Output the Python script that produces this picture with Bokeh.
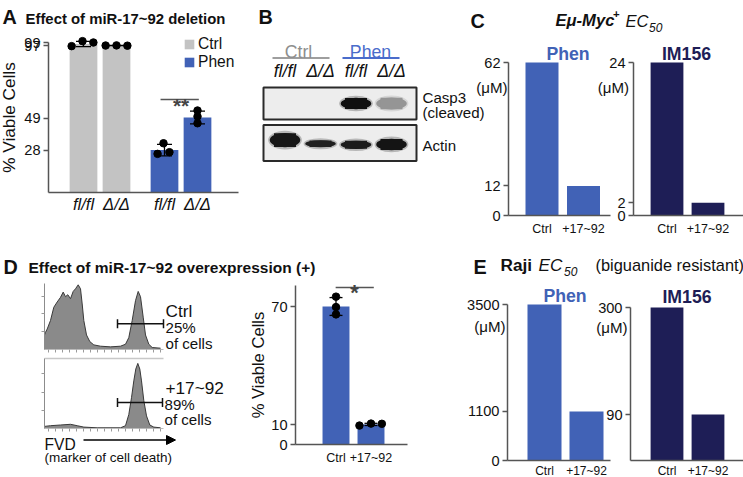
import numpy as np
from bokeh.plotting import figure
from bokeh.models import (Range1d, LinearAxis, FixedTicker, Label, Legend, LegendItem,
                          Whisker, TeeHead, ColumnDataSource, Arrow, NormalHead)
from bokeh.embed import file_html
from bokeh.resources import INLINE

# ---------------- values ----------------
# Panel A: % viable cells after miR-17~92 deletion
a_treatment = ["Ctrl", "Ctrl", "Phen", "Phen"]
a_genotype = ["fl/fl", "Δ/Δ", "fl/fl", "Δ/Δ"]
a_viable = [98.0, 97.0, 28.0, 49.5]
a_rep1 = [96.6, 97.0, 32.5, 54.1]
a_rep2 = [99.9, 97.1, 25.5, 50.2]
a_rep3 = [99.0, 96.9, 26.6, 45.7]
a_yticks = [28, 49, 97, 99]

# Panel B: western blot, relative band signal / band thickness per lane
b_treatment = ["Ctrl", "Ctrl", "Phen", "Phen"]
b_genotype = ["fl/fl", "Δ/Δ", "fl/fl", "Δ/Δ"]
b_casp3_signal = [0.0, 0.0, 1.0, 0.40]
b_casp3_thickness = [0.36, 0.36, 0.36, 0.38]
b_actin_signal = [0.97, 0.93, 0.95, 0.98]
b_actin_thickness = [0.40, 0.19, 0.23, 0.32]
b_actin_center = [0.58, 0.48, 0.45, 0.46]

# Panels C and E: EC50 (µM)
ec_groups = ["Ctrl", "+17~92"]
c_phen = [62, 12]
c_im156 = [24, 2]
c_phen_ticks = [0, 12, 62]
c_im156_ticks = [0, 2, 24]
e_phen = [3500, 1100]
e_im156 = [300, 90]
e_phen_ticks = [0, 1100, 3500]
e_im156_ticks = [90, 300]

# Panel D: FVD histograms (% of max) and gates
d_ch_ctrl = [0, 1, 2.7, 6, 9.3, 12.7, 16, 18.7, 21, 23.3, 26, 28.7, 31, 33.7, 36, 37.7, 39.3,
             42, 45.3, 49.3, 56, 66, 76, 81, 84.3, 87.7, 91, 93.7, 96, 98.7, 101, 104.3, 107.7, 116]
d_cnt_ctrl = [22, 26, 31, 44, 64, 72, 79, 87, 80, 83, 77, 88, 92, 98, 92, 69, 44,
              22, 12, 7, 5, 4, 5, 8, 18, 44, 74, 88, 80, 49, 22, 8, 3, 2]
d_ch_mir = [0, 6, 16, 26, 32.7, 39.3, 52.7, 76, 81, 84.3, 87, 89.3, 91.3, 93.3, 95.3, 97,
            99.3, 102, 105.3, 109.3, 116]
d_cnt_mir = [3, 4, 5, 6, 4, 2, 1, 1, 4, 20, 44, 68, 85, 93, 85, 68, 40, 18, 5, 2, 1]
d_gate_ctrl = [73, 119]
d_gate_mir = [73, 118]
d_gate_labels = ["25%", "89%"]
# Panel D: % viable cells
d_groups = ["Ctrl", "+17~92"]
d_viable = [70.0, 10.2]
d_rep1 = [75.0, 9.6]
d_rep2 = [69.7, 10.6]
d_rep3 = [66.0, 10.5]
d_yticks = [0, 10, 70]

# ---------------- styling / layout helpers ----------------
BLUE = "#4162B6"
NAVY = "#1E1E56"
LGRAY = "#C3C3C3"
AXC = "#555555"
FONT = "Liberation Sans"
W, H = 743, 477
SF = 1.04


def fpx(v):
    return f"{v * SF:.1f}px"


def lin(m, q):
    vA, pA, vB, pB = m
    return vA + (q - pA) * (vB - vA) / (pB - pA)


p = figure(width=W, height=H, x_range=Range1d(0, W), y_range=Range1d(H, 0), title=None,
           output_backend="svg", toolbar_location=None, x_axis_type=None, y_axis_type=None,
           min_border=0, min_border_left=0, min_border_right=0, min_border_top=0,
           min_border_bottom=0)
p.outline_line_color = None
p.background_fill_color = "white"
p.border_fill_color = "white"

XR, YR = {}, {}


def sub(name, xmap, ymap):
    XR[name] = Range1d(lin(xmap, 0), lin(xmap, W))
    YR[name] = Range1d(lin(ymap, H), lin(ymap, 0))
    return dict(x_range_name=name, y_range_name=name)


def yaxis(name, xmap, ticks, at_px, bounds, size=14, label=None, label_size=16.5,
          label_standoff=3):
    ax = LinearAxis(x_range_name=name, y_range_name=name, fixed_location=lin(xmap, at_px),
                    bounds=bounds, ticker=FixedTicker(ticks=ticks))
    ax.axis_line_color = AXC
    ax.axis_line_width = 1.5
    ax.major_tick_line_color = AXC
    ax.major_tick_line_width = 1.5
    ax.major_tick_out = 5
    ax.major_tick_in = 0
    ax.minor_tick_line_color = None
    ax.major_label_standoff = 3
    ax.major_label_text_font = FONT
    ax.major_label_text_font_size = fpx(size)
    ax.major_label_text_color = "#111111"
    if label:
        ax.axis_label = label
        ax.axis_label_text_font = FONT
        ax.axis_label_text_font_size = fpx(label_size)
        ax.axis_label_text_font_style = "normal"
        ax.axis_label_text_color = "#111111"
        ax.axis_label_standoff = label_standoff
    p.add_layout(ax, "left")
    return ax


def xaxis(name, xmap, pos, labels, px0, px1, size=12, style="normal", standoff=6):
    ax = LinearAxis(x_range_name=name, y_range_name=name, fixed_location=0,
                    bounds=(lin(xmap, px0), lin(xmap, px1)),
                    ticker=FixedTicker(ticks=list(pos)),
                    major_label_overrides={q: s for q, s in zip(pos, labels)})
    ax.axis_line_color = AXC
    ax.axis_line_width = 1.5
    ax.major_tick_line_color = None
    ax.major_tick_out = 0
    ax.major_tick_in = 0
    ax.minor_tick_line_color = None
    ax.major_label_standoff = standoff
    ax.major_label_text_font = FONT
    ax.major_label_text_font_size = fpx(size)
    ax.major_label_text_font_style = style
    ax.major_label_text_color = "#111111"
    p.add_layout(ax, "below")
    return ax


def txt(x, y, s, size, style="normal", color="#111111", align="left"):
    p.add_layout(Label(x=x, y=y, text=s, text_font=FONT, text_font_size=fpx(size),
                       text_font_style=style, text_color=color, text_align=align,
                       text_baseline="alphabetic"))


# ---------------- free text (titles, letters, annotations) ----------------
txt(2, 16.7, "A", 19, "bold")
txt(25, 18.5, "Effect of miR-17~92 deletion", 14.3, "bold")
txt(258, 16.7, "B", 19, "bold")
txt(470, 20.5, "C", 19, "bold")
txt(555, 20, "Eμ-Myc", 16, "bold italic")
txt(612.5, 13.5, "+", 11, "bold")
txt(625, 20.5, "EC", 16, "italic")
txt(648.5, 26.5, "50", 11.5, "italic")
txt(567.5, 53.3, "Phen", 17, "bold", BLUE, "center")
txt(686, 53.3, "IM156", 17, "bold", NAVY, "center")
txt(507, 87, "(μM)", 14.5, align="right")
txt(628.5, 87, "(μM)", 14.5, align="right")
txt(3, 266.7, "D", 19, "bold")
txt(28, 267, "Effect of miR-17~92 overexpression (+)", 14.9, "bold")
txt(473, 266.7, "E", 19, "bold")
txt(500, 264.5, "Raji", 16.5, "bold")
txt(538, 264.5, "EC", 16.5, "italic")
txt(563.5, 270.5, "50", 11.5, "italic")
txt(595, 264.5, "(biguanide resistant)", 15.8)
txt(564.5, 295.7, "Phen", 17, "bold", BLUE, "center")
txt(686.5, 296, "IM156", 17, "bold", NAVY, "center")
txt(505, 326, "(μM)", 14.5, align="right")
txt(627, 327, "(μM)", 14.5, align="right")
# blot group labels
txt(298, 51.5, b_treatment[0], 17, color="#8E8E8E", align="center")
txt(370, 51.5, b_treatment[2], 17, color="#4A6CCB", align="center")
p.segment(x0=[272, 342], y0=[57.5, 57.5], x1=[329, 399], y1=[57.5, 57.5],
          line_color=["#9E9E9E", "#4A6CCB"], line_width=2)
txt(422, 97, "Casp3", 14.5)
txt(422, 111.5, "(cleaved)", 14.5)
txt(422, 145, "Actin", 14.5)
# flow labels
txt(165, 310, "Ctrl", 16.5)
txt(165, 327, d_gate_labels[0], 14.5)
txt(165, 343, "of cells", 14.5)
txt(165, 387, "+17~92", 16.5)
txt(164, 403.5, d_gate_labels[1], 14.5)
txt(164, 418.5, "of cells", 14.5)
txt(44, 444, "FVD", 15)
txt(44, 456.5, "(marker of cell death)", 13)
p.add_layout(Arrow(x_start=83, y_start=439.5, x_end=175, y_end=439.5, line_width=1.5,
                   line_color="black",
                   end=NormalHead(size=9, fill_color="black", line_color="black")))

# ---------------- Panel A ----------------
a_step = 48 / 33
a_pos = [i + (a_step - 1) * (0 if t == "Ctrl" else 1) for i, t in enumerate(a_treatment)]
A_X, A_Y = (0, 83, 1, 116), (0, 192, 99, 42)
kA = sub("A", A_X, A_Y)
renders = {}
for t, col in (("Ctrl", LGRAY), ("Phen", BLUE)):
    idx = [i for i, g in enumerate(a_treatment) if g == t]
    src = ColumnDataSource(dict(x=[a_pos[i] for i in idx], top=[a_viable[i] for i in idx]))
    renders[t] = p.vbar(x="x", top="top", width=0.84, source=src, fill_color=col,
                        line_color=None, **kA)
a_reps = np.array([a_rep1, a_rep2, a_rep3])
a_sd = a_reps.std(axis=0, ddof=1)
a_err = ColumnDataSource(dict(x=a_pos, upper=np.array(a_viable) + a_sd,
                              lower=np.array(a_viable) - a_sd))
p.add_layout(Whisker(source=a_err, base="x", upper="upper", lower="lower", level="overlay",
                     line_color="black", line_width=1.3,
                     upper_head=TeeHead(size=15, line_color="black", line_width=1.3),
                     lower_head=TeeHead(size=15, line_color="black", line_width=1.3), **kA))
a_dx = [[-0.36, -0.33, -0.03, 0.0], [-0.03, 0.0, -0.21, 0.0], [0.30, 0.33, 0.15, 0.0]]
for r, rep in enumerate([a_rep1, a_rep2, a_rep3]):
    p.scatter(x=[q + d for q, d in zip(a_pos, a_dx[r])], y=rep, size=7.5,
              fill_color="black", line_color="black", level="overlay", **kA)
p.line(x=[a_pos[2] - 0.12, a_pos[3] + 0.04], y=[61.4, 61.4], line_color="#555555",
       line_width=1.6, **kA)
p.add_layout(Label(x=(a_pos[2] + a_pos[3]) / 2, y=61.4, text="**", text_font=FONT,
                   text_font_size=fpx(20), text_font_style="bold", text_align="center",
                   text_baseline="alphabetic", y_offset=-6.3, **kA))
yaxis("A", A_X, a_yticks, 48, (0, 99), 14, "% Viable Cells", 16.5, label_standoff=2)
xaxis("A", A_X, a_pos, a_genotype, 48, 238, 16, "italic", 2)
legA = Legend(items=[LegendItem(label="Ctrl", renderers=[renders["Ctrl"]]),
                     LegendItem(label="Phen", renderers=[renders["Phen"]])],
              location=(183, H - 70.5),
              glyph_width=12, glyph_height=12, label_standoff=3,
              spacing=0, padding=0, margin=0, label_height=12,
              label_text_font=FONT, label_text_font_size=fpx(15), label_text_color="#111111",
              border_line_color=None, background_fill_alpha=0)
p.add_layout(legA)

# ---------------- Panel B (blot) ----------------
lanes = list(range(len(b_genotype)))
B_X = (0, 284.5, 3, 391)
kB1 = sub("B1", B_X, (0, 119, 1, 87))
kB2 = sub("B2", B_X, (0, 160.5, 1, 124.5))


def gray(sig):
    v = int(round(238 - 222 * sig))
    return f"#{v:02x}{v:02x}{v:02x}"


def blot(k, signal, thick, center):
    p.quad(left=[lin(B_X, 263)], right=[lin(B_X, 416)], bottom=[0], top=[1],
           fill_color="#EDEDED", line_color="#2A2A2A", line_width=2, **k)
    for i, (s, h, c) in enumerate(zip(signal, thick, center)):
        if s <= 0:
            continue
        col = gray(s)
        p.ellipse(x=[lanes[i]], y=[c], width=0.95, height=h + 0.12, fill_color=col,
                  fill_alpha=0.25, line_color=None, **k)
        p.ellipse(x=[lanes[i]], y=[c], width=0.86, height=h, fill_color=col,
                  line_color=None, **k)
        p.rect(x=[lanes[i]], y=[c], width=0.62, height=h * 0.96, fill_color=col,
               line_color=None, **k)


blot(kB1, b_casp3_signal, b_casp3_thickness, [0.5] * 4)
blot(kB2, b_actin_signal, b_actin_thickness, b_actin_center)
axB = LinearAxis(x_range_name="B1", y_range_name="B1", fixed_location=1,
                 ticker=FixedTicker(ticks=lanes),
                 major_label_overrides={i: g for i, g in zip(lanes, b_genotype)})
axB.axis_line_color = None
axB.major_tick_line_color = None
axB.major_tick_out = 0
axB.major_tick_in = 0
axB.minor_tick_line_color = None
axB.major_label_standoff = 7
axB.major_label_text_font = FONT
axB.major_label_text_font_size = fpx(17)
axB.major_label_text_font_style = "italic"
axB.major_label_text_color = "#111111"
p.add_layout(axB, "above")

# ---------------- Panels C and E (EC50 bars) ----------------
ec_pos = list(range(len(ec_groups)))


def ec_panel(name, xmap, ymap, vals, ticks, color, width, ax_px, right_px, top_val,
             lab_size=12, lab_standoff=6):
    k = sub(name, xmap, ymap)
    p.vbar(x=ec_pos, top=vals, width=width, fill_color=color, line_color=None, **k)
    yaxis(name, xmap, ticks, ax_px, (0, top_val), 14)
    xaxis(name, xmap, ec_pos, ec_groups, ax_px, right_px, lab_size, "normal", lab_standoff)


ec_panel("C1", (0, 541.5, 1, 583), (0, 215, 62, 62), c_phen, c_phen_ticks, BLUE, 0.795,
         508, 610, c_phen_ticks[-1])
ec_panel("C2", (0, 666.5, 1, 707.5), (0, 215, 24, 62), c_im156, c_im156_ticks, NAVY, 0.80,
         633, 743, c_im156_ticks[-1])
ec_panel("E1", (0, 544, 1, 586), (0, 460, 3500, 304), e_phen, e_phen_ticks, BLUE, 0.81,
         507, 610, e_phen_ticks[-1], 11.5, 3)
ec_panel("E2", (0, 666.5, 1, 707.5), (0, 460, 300, 307), e_im156, e_im156_ticks, NAVY, 0.80,
         630, 743, e_im156_ticks[-1], 11.5, 3)

# ---------------- Panel D (flow histograms) ----------------
F_X = (0, 44, 119, 163)


def flow_panel(name, ymap, ch, cnt, gate, gate_level, yt, top_line):
    k = sub(name, F_X, ymap)
    p.varea(x=ch, y1=0, y2=cnt, fill_color="#8A8A8A", **k)
    p.line(x=ch, y=cnt, line_color="#3A3A3A", line_width=1, **k)
    gsrc = ColumnDataSource(dict(y=[gate_level], lo=[gate[0]], hi=[gate[1]]))
    p.add_layout(Whisker(source=gsrc, base="y", lower="lo", upper="hi", dimension="width",
                         level="overlay", line_color="#111111", line_width=1.5,
                         upper_head=TeeHead(size=9, line_color="#111111", line_width=1.5),
                         lower_head=TeeHead(size=9, line_color="#111111", line_width=1.5),
                         **k))
    ly = LinearAxis(fixed_location=0, bounds=(0, 100), ticker=FixedTicker(ticks=yt), **k)
    lx = LinearAxis(fixed_location=0, bounds=(0, 119),
                    ticker=FixedTicker(ticks=list(range(4, 119, 7))), **k)
    for ax in (ly, lx):
        ax.axis_line_color = "#8C8C8C"
        ax.axis_line_width = 1
        ax.major_tick_line_color = "#9A9A9A"
        ax.major_tick_out = 3
        ax.major_tick_in = 0
        ax.minor_tick_line_color = None
        ax.major_label_text_color = None
    lx.axis_line_color = "#BBBBBB"
    p.add_layout(ly, "left")
    p.add_layout(lx, "below")
    if top_line:
        ta = LinearAxis(fixed_location=100, bounds=(0, 119), ticker=FixedTicker(ticks=[]), **k)
        ta.axis_line_color = "#C8C8C8"
        ta.axis_line_width = 1.5
        ta.major_tick_line_color = None
        ta.minor_tick_line_color = None
        ta.major_label_text_color = None
        p.add_layout(ta, "above")


flow_panel("F1", (0, 349, 100, 283), d_ch_ctrl, d_cnt_ctrl, d_gate_ctrl, 39, [27, 54, 81], False)
flow_panel("F2", (0, 428, 100, 358), d_ch_mir, d_cnt_mir, d_gate_mir, 37, [26, 52, 79], True)

# ---------------- Panel D (viability bars) ----------------
d_pos = list(range(len(d_groups)))
D_X, D_Y = (0, 335.5, 1, 370.5), (0, 444, 70, 306)
kD = sub("D", D_X, D_Y)
p.vbar(x=d_pos, top=d_viable, width=0.77, fill_color=BLUE, line_color=None, **kD)
d_reps = np.array([d_rep1, d_rep2, d_rep3])
d_sd = d_reps.std(axis=0, ddof=1)
d_err = ColumnDataSource(dict(x=d_pos, upper=np.array(d_viable) + d_sd,
                              lower=np.array(d_viable) - d_sd))
p.add_layout(Whisker(source=d_err, base="x", upper="upper", lower="lower", level="overlay",
                     line_color="black", line_width=1.3,
                     upper_head=TeeHead(size=13, line_color="black", line_width=1.3),
                     lower_head=TeeHead(size=13, line_color="black", line_width=1.3), **kD))
d_dx = [[0.0, -0.33], [0.0, 0.0], [0.0, 0.31]]
for r, rep in enumerate([d_rep1, d_rep2, d_rep3]):
    p.scatter(x=[q + d for q, d in zip(d_pos, d_dx[r])], y=rep, size=7.5,
              fill_color="black", line_color="black", level="overlay", **kD)
p.line(x=[d_pos[0] - 0.01, d_pos[1] + 0.08], y=[79.6, 79.6], line_color="#555555",
       line_width=1.6, **kD)
p.add_layout(Label(x=(d_pos[0] + d_pos[1]) / 2 + 0.03, y=79.6, text="*", text_font=FONT,
                   text_font_size=fpx(21), text_font_style="bold", text_align="center",
                   text_baseline="alphabetic", y_offset=-5.3, **kD))
yaxis("D", D_X, d_yticks, 295, (0, 80.7), 14, "% Viable Cells", 16, label_standoff=0)
xaxis("D", D_X, d_pos, d_groups, 295, 407, 12, "normal", 6)

p.extra_x_ranges = XR
p.extra_y_ranges = YR

open("out.html", "w").write(file_html(p, INLINE))
